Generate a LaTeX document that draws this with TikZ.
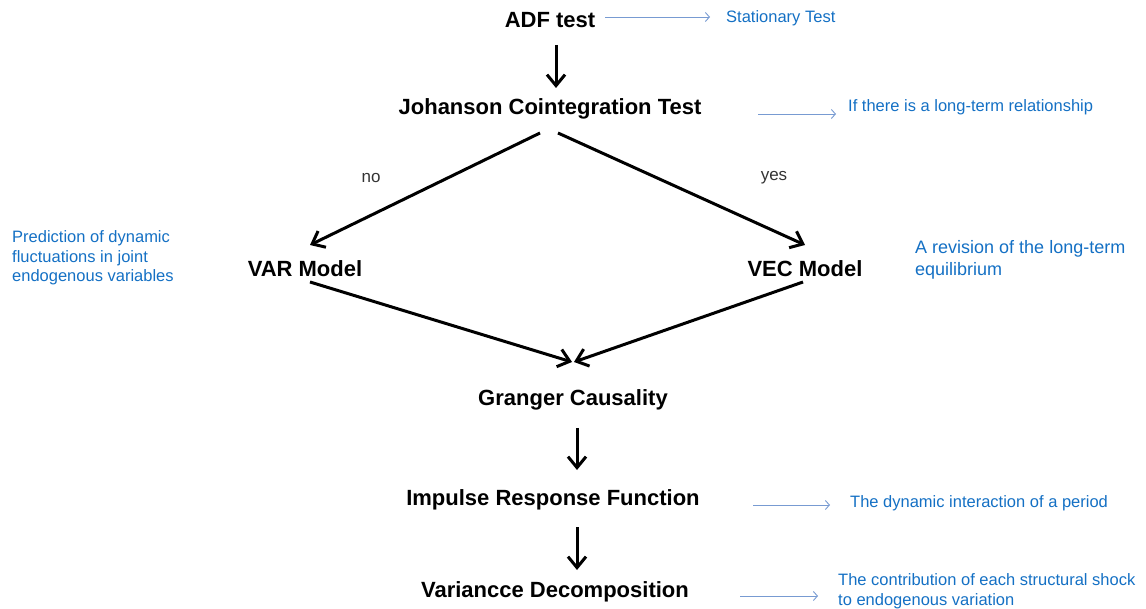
\documentclass[tikz,border=0pt]{standalone}
\usepackage{fontspec}
\setmainfont{Liberation Sans}
\usetikzlibrary{arrows.meta}
\definecolor{notecol}{RGB}{20,112,196}
\definecolor{pointercol}{RGB}{120,155,210}
\tikzset{
  stage/.style={font=\fontsize{22}{26}\selectfont\bfseries, text=black, inner sep=0pt},
  note/.style={font=\fontsize{16.5}{20}\selectfont, text=notecol, inner sep=0pt, align=left, anchor=west},
  bignote/.style={font=\fontsize{18}{22}\selectfont, text=notecol, inner sep=0pt, align=left, anchor=west},
  branch/.style={font=\fontsize{17}{20}\selectfont, text=black!80, inner sep=0pt},
  flow/.style={line width=3pt, draw=black, -{Straight Barb[length=11pt,width=18pt,line width=3pt]}},
  pointer/.style={line width=0.9pt, draw=pointercol, -{Straight Barb[length=4pt,width=9pt,line width=0.9pt]}}
}
\begin{document}
\begin{tikzpicture}[x=1pt,y=-1pt]
\useasboundingbox (0,0) rectangle (1146,609);

% main stages
\node[stage] (adf)  at (550,20)  {ADF test};
\node[stage] (joh)  at (550,109) {Johanson Cointegration Test};
\node[stage] (var)  at (305,269) {VAR Model};
\node[stage] (vec)  at (805,269) {VEC Model};
\node[stage] (gra)  at (573,400) {Granger Causality};
\node[stage] (irf)  at (553,500) {Impulse Response Function};
\node[stage] (vd)   at (555,592) {Variancce Decomposition};

% side notes
\node[note] (nstat) at (726,18)  {Stationary Test};
\node[note] (nlong) at (848,107) {If there is a long-term relationship};
\node[note, font=\fontsize{16.5}{19.5}\selectfont] (nvar) at (12,258) {Prediction of dynamic\\fluctuations in joint\\endogenous variables};
\node[bignote] (nvec) at (915,260) {A revision of the long-term\\equilibrium};
\node[note] (nirf)  at (850,503) {The dynamic interaction of a period};
\node[note] (nvd) at (838,591) {The contribution of each structural shock\\to endogenous variation};

% branch labels
\node[branch] (lno)  at (371,178) {no};
\node[branch] (lyes) at (774,178) {yes};

% pointer anchors
\coordinate (p1a) at (605,17);  \coordinate (p1b) at (710,17);
\coordinate (p2a) at (758,114); \coordinate (p2b) at (836,114);
\coordinate (p3a) at (753,505); \coordinate (p3b) at (830,505);
\coordinate (p4a) at (740,596); \coordinate (p4b) at (818,596);

% flow arrows
\draw[flow] (556,45) -- (556,88);
\draw[flow] (540,133) -- (310,245);
\draw[flow] (558,133) -- (805,245);
\draw[flow] (310,282) -- (572,362);
\draw[flow] (803,282) -- (574,362);
\draw[flow] (577,428) -- (577,470);
\draw[flow] (577,527) -- (577,570);

% pointers to notes
\draw[pointer] (p1a) -- (p1b);
\draw[pointer] (p2a) -- (p2b);
\draw[pointer] (p3a) -- (p3b);
\draw[pointer] (p4a) -- (p4b);
\end{tikzpicture}
\end{document}
